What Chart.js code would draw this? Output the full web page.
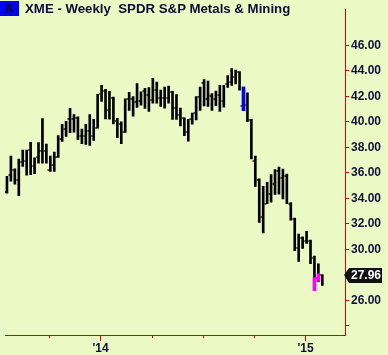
<!DOCTYPE html>
<html>
<head>
<meta charset="utf-8">
<script src="https://cdn.jsdelivr.net/npm/chart.js@4.4.0/dist/chart.umd.min.js"></script>
<style>
    html, body { margin: 0; padding: 0; background: #ebfac5; }
    #wrap { position: relative; width: 388px; height: 355px; }
    #badge {
        position: absolute; left: 0; top: 1px; width: 19px; height: 15px;
        background: #0000ff; color: #000;
        font: bold 13px 'Liberation Sans', Arial, sans-serif;
        text-align: center; line-height: 15px;
    }
    #title {
        position: absolute; left: 25px; top: 1px;
        font: bold 13.25px 'Liberation Sans', Arial, sans-serif;
        color: #0c0c36; white-space: pre; line-height: 15px;
    }
</style>
</head>
<body>
<div id="wrap">
    <canvas id="xmeChart" width="388" height="355"></canvas>
    <div id="badge">A</div>
    <div id="title">XME - Weekly  SPDR S&amp;P Metals &amp; Mining</div>
</div>
<script>
// weekly bars, oldest first (first bar is mid-July 2013)
const highs = [
    35.72, 37.32, 36.31, 37.09, 37.78, 37.78, 38.40, 37.19, 38.37, 40.26,
    38.27, 37.32, 37.64, 38.92, 39.82, 40.05, 41.06, 40.58, 40.39, 39.43,
    39.82, 40.58, 40.20, 42.17, 42.87, 42.56, 42.40, 41.94, 40.28, 40.01,
    41.82, 42.32, 41.98, 43.01, 42.36, 42.63, 42.69, 43.43, 43.12, 42.49,
    42.74, 42.82, 42.41, 42.15, 41.08, 40.32, 40.20, 40.70, 41.98, 42.74,
    43.33, 43.20, 42.23, 42.43, 42.87, 42.87, 43.63, 44.19, 44.06, 43.96,
    42.74, 42.28, 40.20, 37.32, 35.54, 34.95, 35.26, 35.87, 36.25, 36.46,
    36.29, 35.91, 33.67, 32.46, 31.19, 30.98, 31.42, 30.73, 29.47, 28.87,
    28.01
];
const lows = [
    34.40, 35.34, 35.11, 34.21, 36.50, 35.82, 35.85, 35.93, 36.76, 36.76,
    36.76, 36.12, 36.12, 37.21, 38.47, 38.87, 39.15, 39.19, 38.60, 38.29,
    38.24, 38.16, 38.54, 39.50, 41.60, 40.24, 40.22, 39.85, 38.77, 38.29,
    39.18, 40.91, 40.45, 41.14, 41.31, 41.06, 40.83, 41.47, 41.47, 41.21,
    41.08, 41.47, 40.20, 40.20, 39.69, 38.92, 38.49, 39.82, 40.15, 40.91,
    41.25, 41.21, 40.91, 41.27, 40.83, 41.16, 42.70, 42.87, 42.99, 42.49,
    40.89, 40.02, 37.09, 34.93, 32.11, 31.29, 33.58, 33.71, 34.31, 34.32,
    33.96, 33.58, 32.28, 29.89, 29.05, 30.07, 30.47, 28.87, 26.75, 27.47,
    27.17
];
const closes = [
    34.46, 35.87, 36.23, 35.41, 36.88, 36.90, 37.83, 36.56, 37.23, 37.69,
    37.70, 36.26, 36.63, 37.27, 38.63, 39.44, 40.21, 40.24, 40.30, 38.92,
    38.92, 39.31, 38.92, 39.56, 42.23, 42.43, 40.96, 41.85, 40.07, 39.82,
    39.23, 41.82, 41.79, 41.60, 41.67, 42.40, 42.11, 41.73, 42.49, 41.85,
    41.85, 41.85, 42.36, 41.08, 40.53, 40.27, 39.18, 40.20, 40.68, 41.98,
    43.08, 41.82, 42.03, 41.77, 42.11, 41.67, 42.99, 43.12, 43.50, 43.89,
    41.21, 41.34, 40.18, 36.94, 35.43, 32.51, 33.58, 34.34, 35.11, 36.18,
    35.57, 35.74, 33.56, 32.40, 30.11, 30.91, 30.66, 30.66, 29.31, 27.78,
    27.96
];

// highlighted (painted) bars
const paintIndex = [60, 78, 79];
const paintLow = [40.89, 26.75, 27.53];
const paintHigh = [42.74, 27.78, 28.08];
const paintColor = ['#0000ff', '#ff00ff', '#ff00ff'];

// x axis in weeks from 1 Jan 2014
const firstWeek = -23.75;
const yearWeeks = [0, 52];
const yearLabels = ["'14", "'15"];
const quarterWeeks = [-13, 13, 26, 39];

const yTicks = [24, 26, 28, 30, 32, 34, 36, 38, 40, 42, 44, 46];
const yHiddenLabels = [24, 28];

const axisRed = '#e00000';
const labelColor = '#10103a';
const labelFont = { family: "'Liberation Sans', Arial, sans-serif", size: 12, weight: 'bold' };

const weeks = highs.map((_, i) => firstWeek + i);

// small left-hand tick for the close
const tickMark = document.createElement('canvas');
tickMark.width = 6;
tickMark.height = 2;
const tctx = tickMark.getContext('2d');
tctx.fillStyle = '#000';
tctx.fillRect(0.5, 0.25, 1.5, 1.5);

const extrasPlugin = {
    id: 'extras',
    afterDraw(chart) {
        const { ctx, chartArea } = chart;
        const x = chart.scales.x;
        const y = chart.scales.y;
        ctx.save();

        // short quarter ticks under the time axis
        ctx.strokeStyle = axisRed;
        ctx.lineWidth = 1;
        quarterWeeks.forEach(w => {
            const px = Math.round(x.getPixelForValue(w)) + 0.5;
            ctx.beginPath();
            ctx.moveTo(px, chartArea.bottom);
            ctx.lineTo(px, chartArea.bottom + 3);
            ctx.stroke();
        });

        // last price tag
        const last = closes[closes.length - 1];
        const py = Math.round(y.getPixelForValue(last));
        const tip = chartArea.right - 1;
        const boxL = tip + 5;
        const boxR = boxL + 33;
        ctx.fillStyle = '#111';
        ctx.beginPath();
        ctx.moveTo(tip, py);
        ctx.lineTo(boxL, py - 7);
        ctx.lineTo(boxR, py - 7);
        ctx.lineTo(boxR, py + 8);
        ctx.lineTo(boxL, py + 8);
        ctx.closePath();
        ctx.fill();
        ctx.fillStyle = '#fff';
        ctx.font = "bold 12px 'Liberation Sans', Arial, sans-serif";
        ctx.textBaseline = 'middle';
        ctx.fillText(last.toFixed(2), boxL + 2, py + 1);
        ctx.restore();
    }
};

new Chart(document.getElementById('xmeChart'), {
    type: 'bar',
    data: {
        datasets: [
            {
                label: 'Paint',
                order: 0,
                grouped: false,
                barThickness: 3,
                data: paintIndex.map((k, i) => ({ x: weeks[k], y: [paintLow[i], paintHigh[i]] })),
                backgroundColor: paintColor,
                borderWidth: 0
            },
            {
                type: 'scatter',
                label: 'Close',
                order: 1,
                data: closes.map((c, i) => ({ x: weeks[i], y: c })),
                pointStyle: tickMark,
                pointRadius: 3,
                showLine: false
            },
            {
                label: 'Range',
                order: 2,
                grouped: false,
                barThickness: 2,
                data: highs.map((h, i) => ({ x: weeks[i], y: [lows[i], h] })),
                backgroundColor: '#000',
                borderWidth: 0
            }
        ]
    },
    options: {
        responsive: false,
        animation: false,
        events: [],
        layout: { padding: 0 },
        plugins: {
            legend: { display: false },
            tooltip: { enabled: false }
        },
        scales: {
            x: {
                type: 'linear',
                min: -24.25,
                max: 62,
                offset: false,
                afterBuildTicks: s => { s.ticks = yearWeeks.map(v => ({ value: v })); },
                afterFit: s => { s.height = 20; },
                border: { color: axisRed, width: 1 },
                grid: { drawOnChartArea: false, offset: false, tickLength: 6, tickColor: axisRed },
                ticks: {
                    padding: 0,
                    maxRotation: 0,
                    autoSkip: false,
                    color: labelColor,
                    font: labelFont,
                    callback: v => yearLabels[yearWeeks.indexOf(v)]
                }
            },
            y: {
                position: 'right',
                min: 23.275,
                max: 48.847,
                afterBuildTicks: s => { s.ticks = yTicks.map(v => ({ value: v })); },
                afterFit: s => { s.width = 43; },
                border: { color: axisRed, width: 1 },
                grid: { drawOnChartArea: false, tickLength: 4, tickColor: axisRed },
                ticks: {
                    padding: 2,
                    color: labelColor,
                    font: labelFont,
                    callback: v => yHiddenLabels.includes(v) ? '' : v.toFixed(2)
                }
            }
        }
    },
    plugins: [extrasPlugin]
});
</script>
</body>
</html>
